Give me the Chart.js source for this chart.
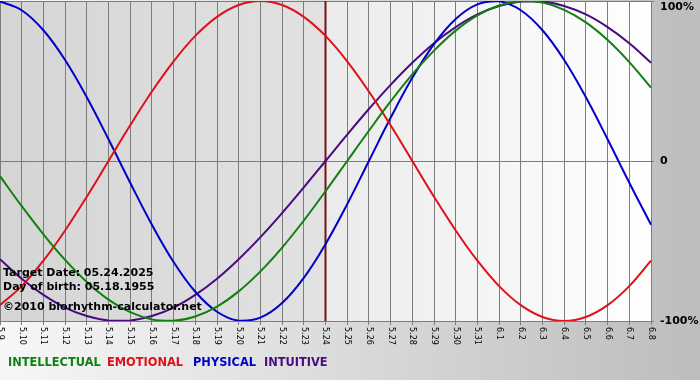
<!DOCTYPE html>
<html>
<head>
<meta charset="utf-8">
<script src="https://cdn.jsdelivr.net/npm/chart.js@4/dist/chart.umd.min.js"></script>
<style>
html,body{margin:0;padding:0;background:#fff;}
#wrap{width:700px;height:380px;position:relative;}
</style>
</head>
<body>
<div id="wrap"><canvas id="c" width="700" height="380"></canvas></div>
<script>
const dates = ['5.9','5.10','5.11','5.12','5.13','5.14','5.15','5.16','5.17','5.18','5.19','5.20','5.21','5.22','5.23','5.24','5.25','5.26','5.27','5.28','5.29','5.30','5.31','6.1','6.2','6.3','6.4','6.5','6.6','6.7','6.8'];
const intellectual = [-0.095,-0.282,-0.458,-0.618,-0.756,-0.866,-0.945,-0.990,-0.999,-0.972,-0.910,-0.815,-0.690,-0.541,-0.372,-0.189,0,0.189,0.372,0.541,0.690,0.815,0.910,0.972,0.999,0.990,0.945,0.866,0.756,0.618,0.458];
const emotional = [-0.901,-0.782,-0.623,-0.434,-0.223,0,0.223,0.434,0.623,0.782,0.901,0.975,1,0.975,0.901,0.782,0.623,0.434,0.223,0,-0.223,-0.434,-0.623,-0.782,-0.901,-0.975,-1,-0.975,-0.901,-0.782,-0.623];
const physical = [0.998,0.942,0.817,0.631,0.398,0.136,-0.136,-0.398,-0.631,-0.817,-0.942,-0.998,-0.979,-0.888,-0.731,-0.520,-0.270,0,0.270,0.520,0.731,0.888,0.979,0.998,0.942,0.817,0.631,0.398,0.136,-0.136,-0.398];
const intuitive = [-0.614,-0.736,-0.837,-0.916,-0.969,-0.997,-0.997,-0.969,-0.916,-0.837,-0.736,-0.614,-0.476,-0.325,-0.165,0,0.165,0.325,0.476,0.614,0.736,0.837,0.916,0.969,0.997,0.997,0.969,0.916,0.837,0.736,0.614];
const yTickLabels = {'1':'100%','0':'0','-1':'-100%'};
const targetDate = '5.24';
const infoLines = ['Target Date: 05.24.2025','Day of birth: 05.18.1955','\u00A92010 biorhythm-calculator.net'];
const legendNames = ['INTELLECTUAL','EMOTIONAL','PHYSICAL','INTUITIVE'];

const COLORS = {INTELLECTUAL:'#108010', EMOTIONAL:'#e0101a', PHYSICAL:'#0000c8', INTUITIVE:'#4a0a80'};
const LEGEND_X = [8, 107, 193, 264];
const FONT = '"DejaVu Sans", Verdana, sans-serif';

const bgPlugin = {
  id:'bg',
  beforeDraw(chart){
    const ctx = chart.ctx, a = chart.chartArea;
    const W = chart.width, H = chart.height;
    ctx.save();
    let g = ctx.createLinearGradient(0,0,W,0);
    g.addColorStop(0,'#f7f7f7');
    g.addColorStop(1,'#bdbdbd');
    ctx.fillStyle = g;
    ctx.fillRect(0,0,W,H);
    const tx = chart.scales.x.getPixelForValue(dates.indexOf(targetDate));
    g = ctx.createLinearGradient(a.left,0,tx,0);
    g.addColorStop(0,'#d5d5d5');
    g.addColorStop(1,'#e2e2e2');
    ctx.fillStyle = g;
    ctx.fillRect(a.left,a.top,tx-a.left,a.bottom-a.top);
    g = ctx.createLinearGradient(tx,0,a.right,0);
    g.addColorStop(0,'#ebebeb');
    g.addColorStop(1,'#ffffff');
    ctx.fillStyle = g;
    ctx.fillRect(tx,a.top,a.right-tx,a.bottom-a.top);
    ctx.restore();
  },
  beforeDatasetsDraw(chart){
    const ctx = chart.ctx, a = chart.chartArea;
    const tx = chart.scales.x.getPixelForValue(dates.indexOf(targetDate));
    ctx.save();
    ctx.strokeStyle = '#7a1010';
    ctx.lineWidth = 2;
    ctx.beginPath();
    ctx.moveTo(tx, a.top);
    ctx.lineTo(tx, a.bottom);
    ctx.stroke();
    ctx.restore();
  },
  afterDraw(chart){
    const ctx = chart.ctx, a = chart.chartArea;
    const xs = chart.scales.x, ys = chart.scales.y;
    ctx.save();
    ctx.fillStyle = '#000';
    ctx.font = '8px ' + FONT;
    ctx.textAlign = 'left';
    ctx.textBaseline = 'middle';
    dates.forEach((d,i)=>{
      const x = xs.getPixelForValue(i);
      ctx.save();
      ctx.translate(x, a.bottom + 6);
      ctx.rotate(Math.PI/2);
      ctx.fillText(d, 0, 0);
      ctx.restore();
    });
    ctx.font = 'bold 11px ' + FONT;
    ctx.textBaseline = 'middle';
    Object.keys(yTickLabels).forEach(k=>{
      let y = ys.getPixelForValue(Number(k));
      y = Math.max(y, 7);
      ctx.fillText(yTickLabels[k], a.right + 9, y);
    });
    ctx.font = 'bold 11px ' + FONT;
    ctx.textBaseline = 'alphabetic';
    ctx.fillText(infoLines[0], 3, a.bottom - 45);
    ctx.fillText(infoLines[1], 3, a.bottom - 31);
    ctx.fillText(infoLines[2], 3, a.bottom - 11);
    ctx.font = 'bold 11.4px ' + FONT;
    legendNames.forEach((n,i)=>{
      ctx.fillStyle = COLORS[n];
      ctx.fillText(n, LEGEND_X[i], 366);
    });
    ctx.restore();
  }
};

const mk = (label, data) => ({
  label, data, borderColor: COLORS[label], borderWidth: 2,
  pointRadius: 0, tension: 0.4, fill: false
});

new Chart(document.getElementById('c'), {
  type: 'line',
  data: {
    labels: dates,
    datasets: [
      mk('INTELLECTUAL', intellectual),
      mk('EMOTIONAL', emotional),
      mk('PHYSICAL', physical),
      mk('INTUITIVE', intuitive)
    ]
  },
  options: {
    responsive: false,
    animation: false,
    devicePixelRatio: 1,
    layout: {padding: {top: 1, left: 0, right: 0, bottom: 0}},
    plugins: {legend: {display: false}, tooltip: {enabled: false}},
    scales: {
      x: {
        type: 'category',
        offset: false,
        grid: {color: '#7c7c7c', lineWidth: 1, drawTicks: true, tickLength: 4, offset: false},
        border: {display: false},
        ticks: {display: false, autoSkip: false},
        afterFit(s){ s.height = 59; }
      },
      y: {
        position: 'right',
        min: -1, max: 1,
        grid: {color: '#7c7c7c', lineWidth: 1, drawTicks: true, tickLength: 3},
        border: {display: false},
        ticks: {display: false, stepSize: 1},
        afterFit(s){ s.width = 49; }
      }
    }
  },
  plugins: [bgPlugin]
});
</script>
</body>
</html>
